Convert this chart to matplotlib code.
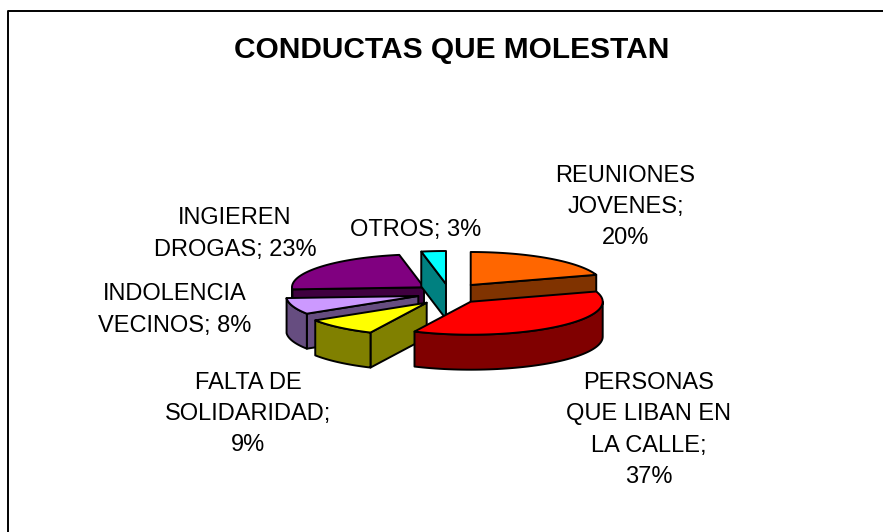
#!/usr/bin/env python3
import numpy as np
import matplotlib as mpl
import matplotlib.pyplot as plt
from matplotlib.patches import Polygon

mpl.rcParams['font.family'] = ['Liberation Sans', 'DejaVu Sans']

title = 'CONDUCTAS QUE MOLESTAN'
categories = ['REUNIONES\nJOVENES;\n20%', 'PERSONAS\nQUE LIBAN EN\nLA CALLE;\n37%',
              'FALTA DE\nSOLIDARIDAD;\n9%', 'INDOLENCIA\nVECINOS; 8%',
              'INGIEREN\nDROGAS; 23%', 'OTROS; 3%']
values = [20, 37, 9, 8, 23, 3]
top_colors = ['#FF6600', '#FF0000', '#FFFF00', '#CC99FF', '#800080', '#00FFFF']
side_colors = ['#803300', '#800000', '#808000', '#664D80', '#400040', '#008080']
# where each slice's tip sits after the explosion, in pixels
apex = [(470.7, 285), (470.7, 301.7), (426.7, 302.7), (418.3, 296), (424, 287.3), (446, 284)]
label_pos = [(625.5, 207), (649, 430), (248, 414), (175, 310), (235, 234), (416, 230)]
order = [4, 5, 0, 3, 2, 1]

RX, RY, DEPTH = 132, 33, 35
EDGE = 1.4


def pts(c, ang):
    a = np.radians(ang)
    return np.column_stack([c[0] + RX*np.sin(a), c[1] - RY*np.cos(a)])


def poly(ax, xy, color, z):
    ax.add_patch(Polygon(xy, closed=True, fc=color, ec='black', lw=EDGE, joinstyle='round', zorder=z))


fig = plt.figure(figsize=(8.83, 5.32), dpi=100)
ax = fig.add_axes([0, 0, 1, 1])
ax.set_xlim(0, 883)
ax.set_ylim(532, 0)
ax.axis('off')

# chart frame: only the left and top sides show
ax.plot([8, 8, 883], [532, 11, 11], color='black', lw=1.4, zorder=1)

edges = np.concatenate([[0], np.cumsum(values)]) * 360.0 / sum(values)

for z, i in enumerate(order):
    c = apex[i]
    a0, a1 = edges[i], edges[i+1]
    down = np.array([0, DEPTH])
    arc = pts(c, np.linspace(a0, a1, 80))
    base = 10 + z*5
    # cut faces that look towards the viewer
    if np.cos(np.radians(a0 - 90)) < -1e-6:
        p = pts(c, [a0])[0]
        poly(ax, [c, p, p + down, np.array(c) + down], side_colors[i], base)
    if np.cos(np.radians(a1 + 90)) < -1e-6:
        p = pts(c, [a1])[0]
        poly(ax, [c, p, p + down, np.array(c) + down], side_colors[i], base)
    # outer wall, front half only
    lo, hi = max(a0, 90), min(a1, 270)
    if hi > lo:
        w = pts(c, np.linspace(lo, hi, 60))
        poly(ax, np.vstack([w, (w + down)[::-1]]), side_colors[i], base + 1)
    poly(ax, np.vstack([[c], arc]), top_colors[i], base + 2)

ax.text(452, 50, title, fontsize=21.5, fontweight='bold', ha='center', va='center', zorder=50)
for lab, (x, y) in zip(categories, label_pos):
    ax.text(x, y, lab, fontsize=17, ha='center', va='center', linespacing=1.54, zorder=50)

fig.savefig('out.png', dpi=100)
